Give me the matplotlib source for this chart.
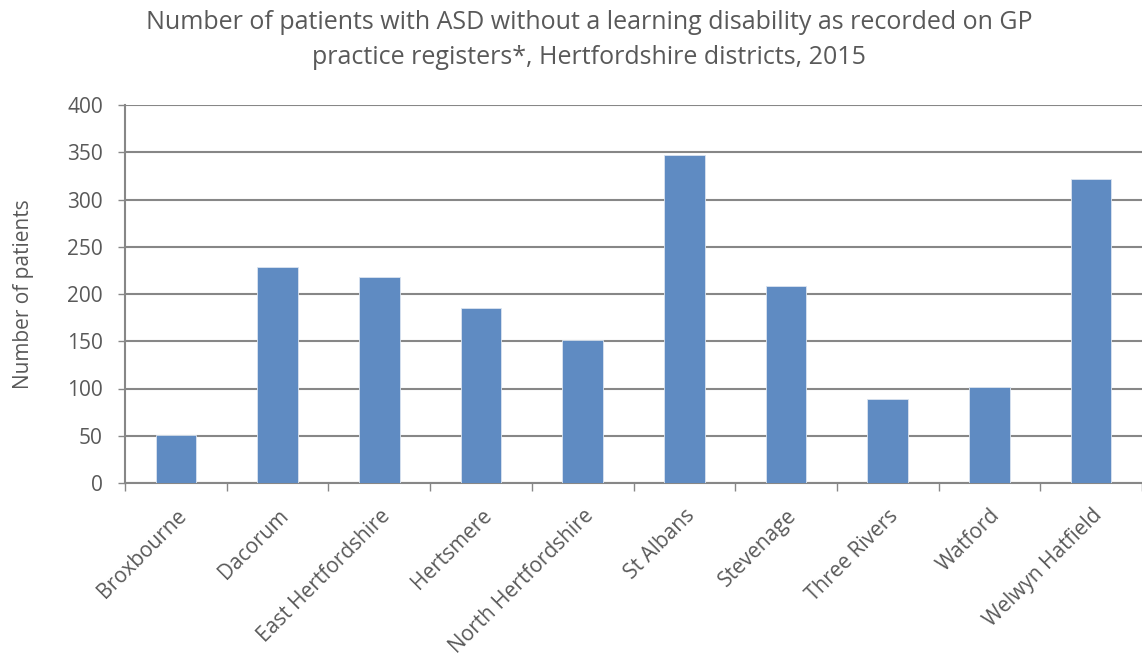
import matplotlib
matplotlib.use('Agg')
import matplotlib.pyplot as plt
import numpy as np

plt.rcParams['font.family'] = ['Open Sans', 'DejaVu Sans']

# districts and patient counts
districts = ['Broxbourne', 'Dacorum', 'East Hertfordshire', 'Hertsmere',
             'North Hertfordshire', 'St Albans', 'Stevenage', 'Three Rivers',
             'Watford', 'Welwyn Hatfield']
patients = [51, 229, 218, 185, 151, 347, 208, 89, 102, 322]
y_ticks = [0, 50, 100, 150, 200, 250, 300, 350, 400]

txt = '#595959'
grid = '#878787'
bar_col = '#5F8BC2'

W, H = 1142, 664
fig = plt.figure(figsize=(W / 100, H / 100), dpi=100)
ax = fig.add_axes([125 / W, (H - 483) / H, (W - 125) / W, (483 - 105) / H])

x = np.arange(len(districts))
ax.bar(x, patients, width=0.4, color=bar_col, edgecolor='#dbe4f0', linewidth=0.6, zorder=3)

ax.set_xlim(-0.5, len(districts) - 0.5)
ax.set_ylim(0, 400)
ax.set_yticks(y_ticks)
ax.yaxis.grid(True, color=grid, linewidth=1.5, zorder=0)
ax.tick_params(axis='y', length=5, width=1, color=grid, labelsize=15, labelcolor=txt, pad=11)

# category labels on major ticks, tick marks between categories
ax.set_xticks(x)
ax.set_xticklabels(districts, rotation=45, ha='right', rotation_mode='anchor')
ax.tick_params(axis='x', which='major', length=0, labelsize=15, labelcolor=txt, pad=16)
ax.set_xticks(np.arange(-0.5, len(districts), 1), minor=True)
ax.tick_params(axis='x', which='minor', length=6, width=1, color=grid)

for s in ['top', 'right']:
    ax.spines[s].set_visible(False)
for s in ['left', 'bottom']:
    ax.spines[s].set_color(grid)
    ax.spines[s].set_linewidth(1.5)

ax.set_ylabel('Number of patients', fontsize=15, color=txt, labelpad=24)

fig.text(589 / W, 1 - 40 / H,
         'Number of patients with ASD without a learning disability as recorded on GP\n'
         'practice registers*, Hertfordshire districts, 2015',
         ha='center', va='center', fontsize=18, color=txt, linespacing=1.5)

fig.savefig('out.png', dpi=100)
